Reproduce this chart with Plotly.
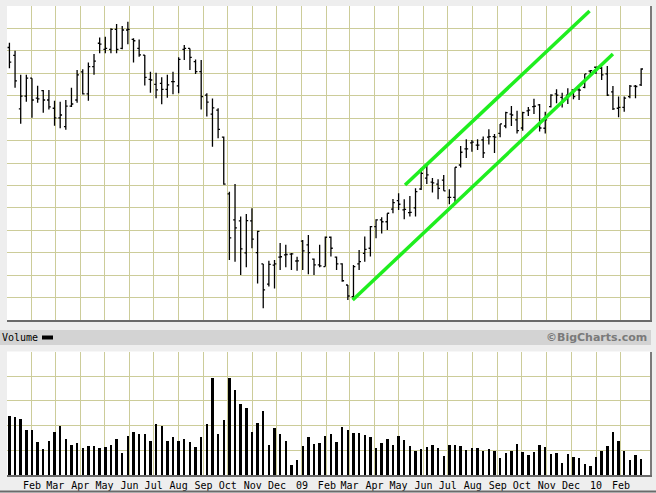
import pandas as pd
import plotly.graph_objects as go

# ---------------- data (weekly bars) ----------------
week_start = "2008-01-04"
n_weeks = 113
dates = pd.date_range(week_start, periods=n_weeks, freq="7D")

high = [20.36, 20.01, 18.93, 18.93, 18.78, 18.44, 18.26, 18.26, 17.77, 17.73,
        17.81, 18.35, 19.15, 19.18, 19.48, 19.86, 20.59, 20.63, 21.01, 21.20,
        21.11, 21.30, 20.56, 20.51, 19.81, 19.07, 19.02, 18.82, 18.93, 19.07,
        19.71, 20.26, 20.11, 19.62, 19.59, 18.11, 17.88, 17.44, 16.18, 13.72,
        14.06, 12.61, 12.73, 12.98, 11.98, 10.50, 10.64, 10.68, 11.43, 11.35,
        10.99, 10.82, 11.57, 11.79, 10.74, 11.35, 11.72, 11.72, 10.83, 10.53,
        9.56, 10.45, 11.12, 11.72, 12.19, 12.49, 12.58, 12.76, 13.40, 13.65,
        13.38, 13.53, 13.87, 14.78, 14.91, 14.33, 14.28, 14.46, 13.83, 14.81,
        15.76, 16.06, 16.03, 16.06, 16.18, 16.51, 16.29, 16.74, 17.29, 17.54,
        17.33, 17.29, 17.50, 17.87, 17.63, 17.29, 18.07, 18.29, 18.13, 18.33,
        18.29, 18.33, 18.97, 19.15, 19.29, 19.29, 19.33, 18.43, 17.96, 17.96,
        18.48, 18.48, 19.22]

low = [19.23, 18.36, 16.75, 17.73, 17.02, 17.69, 17.24, 17.39, 16.66, 16.55,
       16.48, 17.50, 17.69, 18.05, 17.78, 18.93, 19.89, 19.89, 19.89, 19.89,
       20.07, 20.29, 19.48, 19.74, 18.45, 18.13, 17.89, 17.62, 17.91, 18.06,
       18.11, 19.59, 19.15, 18.97, 17.39, 17.07, 15.72, 16.10, 14.03, 10.68,
       10.60, 10.01, 10.35, 11.20, 9.63, 8.52, 9.49, 9.41, 10.23, 10.35,
       10.23, 10.20, 10.23, 10.04, 10.01, 10.35, 10.38, 10.83, 10.23, 9.71,
       8.89, 8.89, 10.23, 10.60, 10.83, 11.64, 11.86, 12.01, 12.76, 12.91,
       12.49, 12.61, 12.61, 13.80, 14.06, 13.68, 13.38, 13.76, 13.16, 13.23,
       14.80, 15.22, 15.50, 15.58, 15.22, 15.83, 15.45, 16.15, 16.55, 16.65,
       16.32, 16.44, 17.09, 17.18, 16.40, 16.32, 17.48, 17.66, 17.48, 17.63,
       17.84, 17.81, 18.33, 18.93, 18.97, 18.70, 17.99, 17.36, 17.04, 17.29,
       17.89, 17.89, 18.43]

open_ = [20.15, 19.80, 17.41, 17.98, 18.78, 17.89, 18.23, 17.81, 17.44, 17.01,
         16.62, 17.54, 17.81, 19.06, 18.08, 19.30, 20.34, 20.07, 20.07, 20.96,
         20.11, 20.93, 20.51, 20.11, 19.81, 18.73, 18.51, 18.55, 18.28, 18.63,
         18.44, 20.07, 20.11, 19.52, 19.07, 18.03, 17.18, 17.36, 16.15, 13.62,
         12.46, 12.42, 10.99, 12.42, 11.00, 10.50, 9.60, 10.45, 10.80, 10.90,
         10.94, 10.63, 11.52, 11.35, 10.71, 10.46, 10.38, 11.69, 10.80, 10.50,
         9.56, 9.04, 10.50, 10.97, 11.20, 12.16, 12.46, 12.38, 12.94, 13.32,
         12.91, 12.79, 13.00, 13.84, 14.33, 14.15, 14.06, 14.24, 13.47, 13.47,
         14.91, 15.63, 15.90, 15.80, 16.03, 16.15, 16.18, 16.32, 16.65, 17.18,
         16.92, 16.56, 17.32, 17.51, 17.59, 16.55, 17.51, 18.08, 17.93, 18.03,
         18.26, 18.26, 18.37, 19.10, 19.27, 19.22, 18.97, 18.17, 17.44, 17.48,
         17.96, 18.43, 18.48]

close = [19.50, 18.66, 17.98, 18.78, 17.81, 17.86, 17.81, 17.50, 17.01, 17.14,
         17.54, 17.63, 18.93, 18.08, 19.30, 19.54, 20.30, 20.11, 20.96, 20.07,
         20.93, 20.96, 20.45, 19.82, 18.82, 18.70, 18.26, 18.28, 18.48, 18.63,
         19.62, 20.11, 19.71, 19.07, 17.96, 17.71, 17.46, 16.50, 14.06, 11.66,
         12.11, 11.17, 12.43, 11.61, 11.95, 9.34, 10.48, 10.50, 10.82, 10.92,
         10.95, 10.64, 11.08, 11.00, 10.46, 10.41, 11.69, 11.20, 10.50, 9.75,
         9.07, 10.38, 10.60, 11.15, 12.16, 12.46, 12.38, 12.76, 13.23, 13.16,
         12.93, 12.80, 13.72, 14.54, 14.47, 14.11, 13.87, 13.76, 13.47, 14.81,
         15.48, 15.63, 15.93, 15.80, 15.45, 16.18, 16.15, 16.74, 17.25, 17.14,
         16.44, 17.25, 17.36, 17.53, 16.56, 16.92, 18.03, 18.03, 17.73, 18.04,
         17.96, 18.25, 18.97, 19.12, 19.27, 18.93, 18.03, 17.41, 17.48, 17.89,
         18.43, 18.41, 19.19]

volume = [2.40, 2.36, 2.28, 1.83, 1.83, 1.34, 1.06, 1.38, 1.75, 1.99,
          1.46, 1.22, 1.30, 1.10, 1.18, 1.18, 1.10, 1.14, 1.22, 1.46,
          0.89, 1.59, 1.75, 1.67, 1.67, 1.38, 2.07, 1.99, 1.38, 1.54,
          1.38, 1.46, 1.34, 1.14, 1.54, 2.07, 3.94, 1.67, 2.24, 3.94,
          3.46, 2.89, 2.72, 1.75, 2.11, 2.60, 1.22, 1.91, 1.67, 1.38,
          0.41, 0.61, 1.18, 1.54, 1.26, 1.30, 1.59, 1.67, 1.34, 1.95,
          1.83, 1.71, 1.71, 1.63, 1.54, 1.10, 1.30, 1.46, 1.22, 1.59,
          1.42, 1.18, 0.98, 1.06, 1.14, 1.22, 1.10, 0.77, 1.22, 1.22,
          1.18, 1.02, 1.10, 1.10, 0.98, 1.06, 0.98, 0.69, 0.89, 0.98,
          1.26, 0.93, 0.81, 0.93, 1.22, 1.14, 0.85, 0.89, 0.49, 0.85,
          0.73, 0.69, 0.45, 0.37, 0.73, 0.98, 1.18, 1.75, 1.38, 0.98,
          0.61, 0.81, 0.65]

# trend channel lines drawn on the chart (start/end date and price)
upper_dates = ["2009-05-09", "2009-12-24"]
upper_prices = [14.02, 21.78]
lower_dates = ["2009-03-05", "2010-01-22"]
lower_prices = [8.89, 19.86]

month_ticks = ["2008-02-01", "2008-03-01", "2008-04-01", "2008-05-01", "2008-06-01",
               "2008-07-01", "2008-08-01", "2008-09-01", "2008-10-01", "2008-11-01",
               "2008-12-01", "2009-01-01", "2009-02-01", "2009-03-01", "2009-04-01",
               "2009-05-01", "2009-06-01", "2009-07-01", "2009-08-01", "2009-09-01",
               "2009-10-01", "2009-11-01", "2009-12-01", "2010-01-01", "2010-02-01"]
month_labels = ["Feb", "Mar", "Apr", "May", "Jun", "Jul", "Aug", "Sep", "Oct", "Nov",
                "Dec", "09", "Feb", "Mar", "Apr", "May", "Jun", "Jul", "Aug", "Sep",
                "Oct", "Nov", "Dec", "10", "Feb"]

price_gridlines = list(range(8, 23))
volume_gridlines = [0, 1, 2, 3, 4, 5]

# ---------------- figure ----------------
W, H = 656, 493
GRID = "#cccc99"
X_RANGE = ["2008-01-01", "2010-03-09"]

def py(px):  # pixel row -> paper fraction
    return (H - px) / H

def pxx(px):
    return px / W

fig = go.Figure()

fig.add_trace(go.Ohlc(
    x=dates, open=open_, high=high, low=low, close=close,
    increasing=dict(line=dict(color="black", width=1.3)),
    decreasing=dict(line=dict(color="black", width=1.3)),
    tickwidth=0.33, xaxis="x", yaxis="y", hoverinfo="skip",
))

for dx, dy in ((upper_dates, upper_prices), (lower_dates, lower_prices)):
    fig.add_trace(go.Scatter(
        x=dx, y=dy, mode="lines", line=dict(color="#1fee1f", width=3.5),
        xaxis="x", yaxis="y", hoverinfo="skip",
    ))

fig.add_trace(go.Bar(
    x=dates, y=volume, marker=dict(color="black", line=dict(width=0)),
    width=3.0 * 86400000, xaxis="x2", yaxis="y2", hoverinfo="skip",
))

x_dom = [pxx(7), pxx(650)]

fig.update_layout(
    width=W, height=H,
    margin=dict(l=0, r=0, t=0, b=0),
    paper_bgcolor="#eeeeee",
    plot_bgcolor="white",
    showlegend=False,
    hovermode=False,
    xaxis=dict(domain=x_dom, anchor="y", type="date", range=X_RANGE,
               tickvals=month_ticks, showticklabels=False, ticks="",
               showgrid=True, gridcolor=GRID, gridwidth=1,
               showline=True, linecolor="#6a6a6a", linewidth=2,
               rangeslider=dict(visible=False), fixedrange=True),
    yaxis=dict(domain=[py(320), py(6)], anchor="x", range=[8, 22],
               tickvals=price_gridlines, showticklabels=False, ticks="",
               showgrid=True, gridcolor=GRID, gridwidth=1, zeroline=False,
               side="right", showline=True, linecolor="#7a7a7a", linewidth=2,
               fixedrange=True),
    xaxis2=dict(domain=x_dom, anchor="y2", type="date", range=X_RANGE,
                tickvals=month_ticks, ticktext=month_labels, ticks="",
                tickfont=dict(family="DejaVu Sans Mono", size=10, color="black"),
                showgrid=True, gridcolor=GRID, gridwidth=1,
                showline=True, linecolor="#6a6a6a", linewidth=2, fixedrange=True),
    yaxis2=dict(domain=[py(475), py(351.5)], anchor="x2", range=[0, 5],
                tickvals=volume_gridlines, showticklabels=False, ticks="",
                showgrid=True, gridcolor=GRID, gridwidth=1, zeroline=False,
                side="right", showline=True, linecolor="#7a7a7a", linewidth=2,
                fixedrange=True),
    bargap=0,
)

# "Volume" header band
fig.add_shape(type="rect", xref="paper", yref="paper",
              x0=0, x1=pxx(651), y0=py(345), y1=py(330),
              fillcolor="#d3d3d3", line=dict(width=0), layer="below")
fig.add_shape(type="rect", xref="paper", yref="paper",
              x0=pxx(42), x1=pxx(53), y0=py(339.5), y1=py(335.5),
              fillcolor="black", line=dict(width=0))
fig.add_shape(type="line", xref="paper", yref="paper",
              x0=0, x1=1, y0=py(491.5), y1=py(491.5),
              line=dict(color="#6a6a6a", width=2))
fig.add_annotation(xref="paper", yref="paper", x=0, y=py(337.5),
                   xanchor="left", yanchor="middle", showarrow=False,
                   text="Volume",
                   font=dict(family="DejaVu Sans Mono", size=10, color="black"))
fig.add_annotation(xref="paper", yref="paper", x=pxx(649), y=py(337.5),
                   xanchor="right", yanchor="middle", showarrow=False,
                   text="<b>©BigCharts.com</b>",
                   font=dict(family="DejaVu Sans", size=11, color="#7a7a7a"))

fig.write_html("out.html",
               config={"displayModeBar": False, "staticPlot": True},
               post_script="document.body.style.margin='0';document.body.style.padding='0';")
